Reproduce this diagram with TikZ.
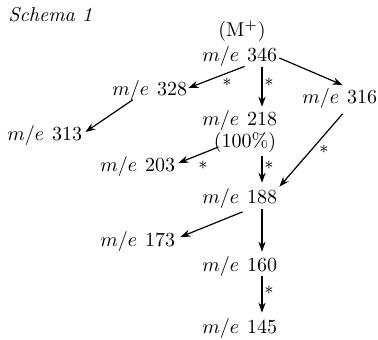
\documentclass[tikz,border=0pt]{standalone}
\usetikzlibrary{arrows.meta,calc}
\newcommand\peak[3]{%
  \node[num] (#1) at (#2) {#3};
  \node[mlab] (#1m) at ($(#1.base west)+(-7,0)$) {$m/e$};}
\begin{document}
\begin{tikzpicture}[x=0.5pt,y=-0.5pt,
  num/.style={inner sep=0pt, font=\normalsize},
  mlab/.style={inner sep=0pt, anchor=base east},
  arr/.style={-{Stealth[length=5pt,width=3.6pt]}, line width=0.6pt},
  star/.style={inner sep=0pt, font=\small}]
\useasboundingbox (0,0) rectangle (378,340);
\node[anchor=west, inner sep=0pt, font=\itshape] (title) at (8,15) {Schema 1};
\node[num] (mplus) at (242,31) {(M$^+$)};
\peak{n346}{262,55}{346}
\peak{n328}{172,89}{328}
\peak{n313}{67,134}{313}
\peak{n218}{262,119}{218}
\peak{n316}{362,97}{316}
\node[num] (p100) at (245,143) {(100\%)};
\peak{n203}{160,165}{203}
\peak{n188}{262,197}{188}
\peak{n173}{160,240}{173}
\peak{n160}{262,265}{160}
\peak{n145}{262,327}{145}
% arrows
\draw[arr] ($(n346.south west)+(-2,4)$) -- ($(n328.east)+(1,-1)$);
\draw[arr] ($(n346.east)+(2,3)$) -- ($(n316m.north east)+(3,-3)$);
\draw[arr, shorten <=2.5pt, shorten >=2.5pt] (n346.south) -- (n218.north);
\draw[arr] ($(n328m.south)+(2,-1)$) -- ($(n313.east)+(3,-2)$);
\draw[arr] ($(n316m.south east)+(3,5)$) -- ($(n188.north east)+(2,-3)$);
\draw[arr] ($(p100.west)+(5,4)$) -- ($(n203.east)+(3,-2)$);
\draw[arr, shorten <=1.5pt, shorten >=3.5pt] (n218 |- p100.south) -- (n188.north);
\draw[arr] ($(n188m.south east)+(3,3)$) -- ($(n173.east)+(5,-3)$);
\draw[arr, shorten <=2.5pt, shorten >=3pt] (n188.south) -- (n160.north);
\draw[arr, shorten <=2pt, shorten >=3.5pt] (n160.south) -- (n145.north);
% asterisks
\node[star] (s1) at (227,82) {$*$};
\node[star] (s2) at (269,82) {$*$};
\node[star] (s3) at (324,149) {$*$};
\node[star] (s4) at (203,165) {$*$};
\node[star] (s5) at (269,165) {$*$};
\node[star] (s6) at (269,290) {$*$};
\end{tikzpicture}
\end{document}
